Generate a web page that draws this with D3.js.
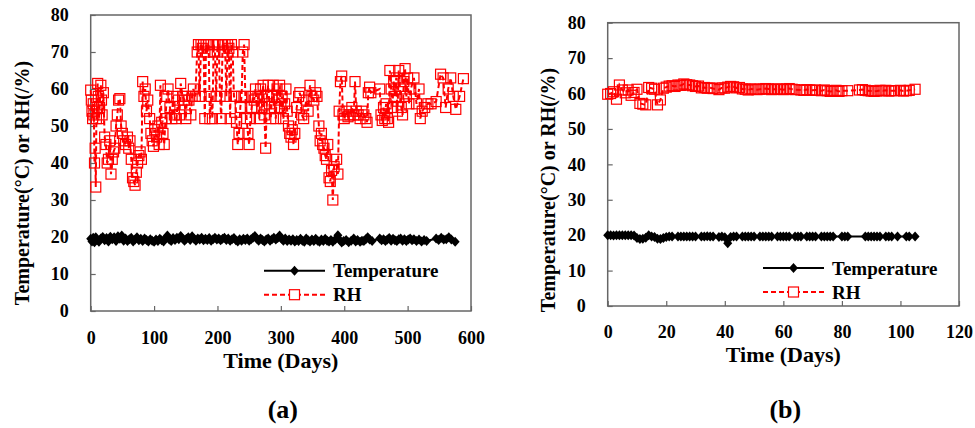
<!DOCTYPE html>
<html lang="en">
  <head>
    <meta charset="UTF-8" />
    <title>Temperature and RH</title>
    <script src="https://d3js.org/d3.v7.min.js"></script>
    <style>
      body { margin: 0; background: #fff; }
      text { font-family: "Liberation Serif", "Times New Roman", serif; font-weight: bold; fill: #000; }
    </style>
  </head>
  <body>
    <svg width="975" height="428"></svg>
    <script>
      // panel (a): [day, value]
      var rhA = [[0,59.7],[1,57],[2,54],[3,52],[4,56],[5,53],[6,40],[7,44],[8,33.5],[9,52],[10,55],[11,61.5],[12,58],[13,52],[14,55],[16,61],[17,57],[18,53],[20,59],[22,47],[24,45],[26,40],[28,41],[30,46],[32,37],[34,41],[36,43],[38,44],[40,50],[42,53],[44,57],[46,57.4],[48,50],[50,48],[52,46],[55,45],[58,47],[60,44],[62,46],[64,41],[66,36],[68,35],[70,34],[72,37.5],[74,40],[76,42],[78,43],[80,41],[82,62],[84,58],[86,60],[88,54],[90,57],[93,52],[95,48],[97,46],[99,44.5],[101,49],[104,47],[106,50],[108,45],[110,61],[112,51],[114,48],[116,45],[118,52],[120,58],[122,60],[125,55],[128,52],[130,58],[132,53],[135,52],[138,57],[140,53],[142,61.5],[145,58],[148,57],[150,52],[152,58],[155,57],[158,53],[160,58],[162,60],[165,58],[168,70],[170,72],[172,58],[174,72],[176,71],[178,72],[180,52],[182,72],[184,70],[186,72],[188,52],[190,58],[192,52],[194,72],[196,70],[198,58],[200,72],[202,72],[204,58],[206,52],[208,72],[210,70],[212,72],[214,58],[216,72],[218,71],[220,52],[222,72],[224,70],[226,58],[228,58],[230,51],[232,45],[234,48],[236,55],[238,58],[240,70],[242,72],[244,58],[246,52],[248,48],[250,45],[252,52],[254,55],[256,58],[258,57],[260,60],[262,55],[264,58],[266,52],[268,60],[270,55],[272,61],[274,53],[276,44],[278,58],[280,61],[282,56],[284,52],[286,58],[288,61],[290,55],[292,52],[294,60],[296,57],[298,61],[300,55],[302,58],[304,52],[306,56],[308,60],[310,54],[312,50],[314,48],[316,47],[318,49],[320,45],[322,48],[325,55],[328,58],[330,59],[333,53],[336,52],[340,57],[343,54],[346,61],[349,58],[352,57],[355,59],[357,58],[360,50],[362,46],[364,48],[366,45],[368,44],[370,42],[372,41],[374,45],[376,36],[378,35],[380,38],[382,30],[384,39],[388,41],[390,37],[392,54],[394,62],[396,63.5],[398,53],[400,52],[403,54],[406,52.5],[409,53],[412,55],[415,53],[417,62],[419,54],[422,53],[425,52],[428,54],[431,53],[434,52],[436,51],[438,59],[440,60.5],[442,59],[456,60],[458,53],[460,51.5],[462,55],[464,52],[466,56],[468,52],[470,51],[472,65],[474,60],[476,55],[478,62],[480,58],[482,63],[484,54],[486,65],[488,60],[490,55],[492,53],[494,62],[496,65.5],[498,58],[500,63],[502,56],[505,60],[510,63],[514,56],[518,60],[520,52],[523,54],[527,55],[532,56],[537,56],[545,56.6],[552,64],[556,63],[560,55],[564,60],[568,63],[572,58],[576,54.5],[582,58],[588,62.8]];

      var tempA = [[0,19.5],[2,18.8],[4,19.8],[6,18.6],[8,19.9],[10,19.2],[13,18.7],[16,19.6],[19,20.0],[22,19.1],[25,19.7],[28,18.8],[31,20.1],[34,19.4],[37,19.9],[40,18.9],[43,20.2],[46,19.5],[49,20.4],[52,19.0],[55,19.6],[58,18.9],[61,19.4],[64,19.8],[67,18.8],[70,19.3],[73,19.9],[76,19.1],[79,19.5],[82,18.9],[85,19.6],[88,19.2],[91,18.8],[94,19.4],[97,19.0],[100,18.7],[103,19.3],[106,18.9],[109,19.5],[112,19.1],[115,18.8],[118,19.6],[121,20.4],[124,19.3],[127,18.9],[130,19.7],[133,19.2],[136,19.8],[139,19.4],[142,20.3],[145,19.6],[148,19.0],[151,19.5],[154,19.9],[157,19.2],[160,20.2],[163,19.5],[166,19.0],[169,19.6],[172,19.3],[175,19.8],[178,19.1],[181,19.5],[184,19.2],[187,19.7],[190,19.0],[193,19.4],[196,19.8],[199,19.3],[202,19.6],[205,19.1],[208,19.5],[211,19.8],[214,19.2],[217,19.6],[220,19.0],[223,19.4],[226,19.7],[229,19.1],[232,18.8],[235,19.4],[238,19.0],[241,19.5],[244,19.2],[247,19.6],[250,19.0],[253,19.4],[256,19.8],[259,20.3],[262,19.5],[265,19.0],[268,19.6],[271,19.2],[274,18.8],[277,19.3],[280,19.6],[283,19.0],[286,19.4],[289,19.8],[292,19.3],[295,19.7],[298,20.4],[301,19.5],[304,19.0],[307,19.6],[310,18.9],[313,19.3],[316,19.0],[319,19.4],[322,18.8],[325,19.2],[328,18.9],[331,19.5],[334,19.0],[337,18.7],[340,19.6],[343,19.1],[346,18.8],[349,19.3],[352,18.9],[355,19.5],[358,19.0],[361,18.7],[364,19.3],[367,18.9],[370,19.5],[373,19.0],[376,18.8],[379,19.2],[382,18.7],[386,19.3],[390,20.5],[393,19.2],[396,18.5],[399,18.9],[403,19.2],[407,18.6],[411,19.0],[415,19.6],[418,18.8],[421,19.2],[425,18.7],[428,19.0],[431,18.9],[434,19.4],[437,19.9],[440,19.3],[444,18.9],[456,19.6],[459,19.1],[462,19.4],[465,18.9],[468,19.3],[471,19.7],[474,19.0],[477,19.5],[480,19.1],[483,18.9],[486,19.4],[489,19.6],[492,19.0],[495,19.4],[498,18.9],[501,19.3],[504,19.6],[507,19.1],[510,19.4],[514,18.9],[518,19.3],[522,18.8],[526,19.2],[530,18.9],[545,19.6],[549,19.2],[553,19.8],[557,19.3],[561,19.4],[565,19.9],[569,19.3],[575,18.7]];

      // panel (b)
      var rhB = [[0,59.8],[1,60],[2,60.5],[3,58.4],[4,62.4],[5,61],[6,60.2],[7,61],[8,59.5],[9,60.3],[10,61.2],[11,57.2],[12,57],[13,56.8],[14,61.7],[15,61.5],[16,61.2],[17,56.8],[18,58.2],[19,61.5],[20,61.8],[21,62.1],[22,62.2],[23,62],[24,62.4],[25,62.3],[26,62.7],[27,62.5],[28,62.4],[29,62.2],[30,62],[31,62.1],[32,61.6],[33,61.7],[34,61.5],[35,61.6],[36,61.4],[38,61.1],[39,61.6],[40,61.5],[41,61.8],[42,62],[43,61.9],[44,61.6],[45,61.7],[46,61.3],[47,61.2],[48,61],[49,61.3],[50,61.2],[51,61.1],[52,61.2],[53,61.3],[54,61.4],[55,61.3],[56,61.1],[57,61.2],[58,61.3],[59,61.2],[60,61.1],[61,61.3],[62,61.4],[63,61.2],[64,61.1],[66,61],[67,60.9],[68,61.1],[69,61],[70,60.9],[71,61],[73,60.8],[74,61],[75,60.8],[76,60.6],[77,60.7],[78,60.9],[79,60.6],[80,60.8],[82,60.8],[86,61],[87,61.1],[88,60.9],[89,60.8],[90,60.7],[91,60.6],[92,60.7],[93,60.9],[94,60.8],[95,60.9],[96,60.7],[97,60.8],[98,60.8],[100,60.9],[101,60.7],[102,60.8],[103,60.9],[105,61.2]];

      var tempB = [[0,20],[1,20],[2,19.9],[3,20],[4,20],[5,20],[6,20],[7,20],[8,20],[9,19.9],[10,19.2],[11,18.9],[12,19],[13,19.3],[14,20],[15,19.6],[16,19.5],[17,19],[18,18.9],[19,19.2],[20,19.5],[21,19.6],[22,19.6],[24,19.6],[25,19.6],[26,19.6],[27,19.6],[28,19.6],[29,19.6],[30,19.6],[32,19.6],[33,19.6],[34,19.7],[35,19.6],[36,19.6],[38,19.5],[39,19.6],[40,19.4],[41,17.7],[42,19.5],[43,19.6],[44,19.6],[46,19.6],[47,19.6],[48,19.6],[49,19.6],[50,19.6],[52,19.6],[53,19.6],[54,19.6],[55,19.6],[56,19.6],[58,19.6],[59,19.6],[60,19.6],[61,19.6],[62,19.6],[64,19.6],[65,19.6],[66,19.6],[68,19.6],[69,19.6],[70,19.6],[71,19.6],[73,19.6],[74,19.6],[75,19.6],[76,19.6],[77,19.6],[80,19.6],[81,19.6],[82,19.6],[88,19.6],[89,19.6],[90,19.6],[91,19.6],[92,19.6],[93,19.6],[95,19.6],[96,19.6],[97,19.6],[99,19.6],[102,19.6],[103,19.6],[105,19.6]];

      var yTicks = [0, 10, 20, 30, 40, 50, 60, 70, 80];
      var xTicksA = [0, 100, 200, 300, 400, 500, 600];
      var xTicksB = [0, 20, 40, 60, 80, 100, 120];
      var seriesNames = ["Temperature", "RH"];

      var svg = d3.select("svg");
      svg.append("rect").attr("width", 975).attr("height", 428).attr("fill", "#fff");

      var diamond = "M0,-5L4.5,0L0,5L-4.5,0Z";

      function panel(opt) {
        var x = d3.scaleLinear().domain([opt.xTicks[0], opt.xTicks[opt.xTicks.length - 1]]).range([opt.left, opt.right]);
        var y = d3.scaleLinear().domain([0, 80]).range([opt.bottom, opt.top]);
        var g = svg.append("g");

        // frame
        g.append("rect")
          .attr("x", opt.left).attr("y", opt.top)
          .attr("width", opt.right - opt.left).attr("height", opt.bottom - opt.top)
          .attr("fill", "none").attr("stroke", "#666").attr("stroke-width", 1.5);

        var yAxis = g.append("g")
          .attr("transform", "translate(" + opt.left + ",0)")
          .call(d3.axisLeft(y).tickValues(yTicks).tickSizeInner(-5).tickSizeOuter(0).tickPadding(22));
        var xAxis = g.append("g")
          .attr("transform", "translate(0," + opt.bottom + ")")
          .call(d3.axisBottom(x).tickValues(opt.xTicks).tickSizeInner(-5).tickSizeOuter(0).tickPadding(opt.xPad));
        [yAxis, xAxis].forEach(function (a) {
          a.select(".domain").remove();
          a.selectAll(".tick line").attr("stroke", "#666").attr("stroke-width", 1.2);
          a.selectAll("text").attr("font-size", 18).attr("font-family", "Liberation Serif").attr("font-weight", "bold");
        });

        var line = d3.line().x(d => x(d[0])).y(d => y(d[1]));

        // temperature
        g.append("path").datum(opt.temp).attr("d", line)
          .attr("fill", "none").attr("stroke", "#000").attr("stroke-width", 2);
        g.selectAll(".tm").data(opt.temp).join("path").attr("class", "tm")
          .attr("d", diamond).attr("fill", "#000")
          .attr("transform", d => "translate(" + x(d[0]) + "," + y(d[1]) + ")");

        // RH
        g.append("path").datum(opt.rh).attr("d", line)
          .attr("fill", "none").attr("stroke", "#f00").attr("stroke-width", 2).attr("stroke-dasharray", "5,3");
        g.selectAll(".rm").data(opt.rh).join("rect").attr("class", "rm")
          .attr("x", d => x(d[0]) - 5).attr("y", d => y(d[1]) - 5)
          .attr("width", 10).attr("height", 10)
          .attr("fill", "none").attr("stroke", "#f00").attr("stroke-width", 1.2);

        // axis titles
        g.append("text").attr("x", (opt.left + opt.right) / 2).attr("y", opt.xTitleY)
          .attr("text-anchor", "middle").attr("font-size", 22).text("Time (Days)");
        g.append("text")
          .attr("transform", "translate(" + opt.ylabX + "," + opt.ylabY + ") rotate(-90)")
          .attr("text-anchor", "middle").attr("font-size", 20).text("Temperature(°C) or RH(/%)");
        g.append("text").attr("x", (opt.left + opt.right) / 2 + 2).attr("y", 418)
          .attr("text-anchor", "middle").attr("font-size", 26).text(opt.tag);

        // legend
        var lg = g.append("g");
        var ly = [opt.legY, opt.legY + 24];
        seriesNames.forEach(function (name, i) {
          lg.append("line").attr("x1", opt.legX).attr("x2", opt.legX + 61)
            .attr("y1", ly[i]).attr("y2", ly[i])
            .attr("stroke", i ? "#f00" : "#000").attr("stroke-width", 2)
            .attr("stroke-dasharray", i ? "5,3" : null);
          var cx = opt.legX + 30.5;
          if (i) {
            lg.append("rect").attr("x", cx - 5).attr("y", ly[i] - 5).attr("width", 10).attr("height", 10)
              .attr("fill", "#fff").attr("stroke", "#f00").attr("stroke-width", 1.2);
          } else {
            lg.append("path").attr("d", diamond).attr("fill", "#000")
              .attr("transform", "translate(" + cx + "," + ly[i] + ")");
          }
          lg.append("text").attr("x", opt.legX + 69).attr("y", ly[i] + 6.5)
            .attr("font-size", 19).text(name);
        });
      }

      panel({ left: 90.7, right: 471, top: 15, bottom: 311, xTicks: xTicksA, rh: rhA, temp: tempA,
              xPad: 20, xTitleY: 368, ylabX: 29, ylabY: 183, tag: "(a)", legX: 264, legY: 270.7 });
      panel({ left: 607.7, right: 959, top: 22.7, bottom: 306, xTicks: xTicksB, rh: rhB, temp: tempB,
              xPad: 19, xTitleY: 362, ylabX: 555, ylabY: 190, tag: "(b)", legX: 763, legY: 268 });
    </script>
  </body>
</html>
